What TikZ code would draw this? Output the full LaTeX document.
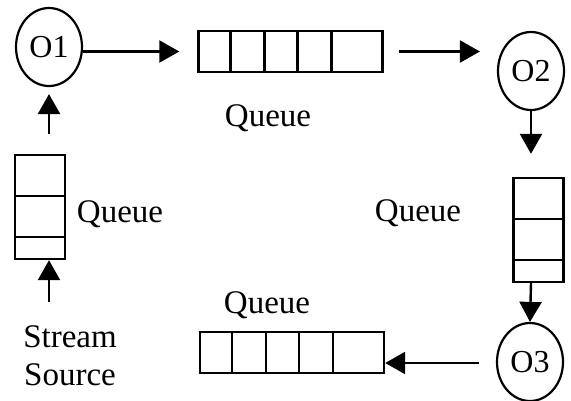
\documentclass[tikz,border=0pt]{standalone}
\usepackage{fontspec}
\setmainfont{Liberation Serif}
\usetikzlibrary{arrows.meta,shapes.geometric,calc}
\tikzset{
  op/.style={draw, ellipse, line width=2.2pt, inner sep=0pt, minimum width=66pt, minimum height=78pt, font=\fontsize{32}{36}\selectfont},
  hq/.style={draw, rectangle, line width=2.4pt, inner sep=0pt, minimum width=184pt, minimum height=41pt},
  vq/.style={draw, rectangle, line width=2.4pt, inner sep=0pt, minimum width=50pt, minimum height=104pt},
  lbl/.style={inner sep=0pt, font=\fontsize{33}{38}\selectfont},
  arr/.style={line width=2.4pt, -{Triangle[length=20pt,width=22pt]}},
  div/.style={line width=2.4pt}
}
\begin{document}
\begin{tikzpicture}[x=1pt,y=-1pt]
\useasboundingbox (0,0) rectangle (571,400);
% operators
\node[op] (o1) at (49,47) {O1};
\node[op] (o2) at (531,71) {O2};
\node[op] (o3) at (530,362) {O3};
% queues
\node[hq] (q1) at (290.5,51.5) {};
\node[hq] (q3) at (292,352.5) {};
\node[vq] (q0) at (40,207) {};
\node[vq] (q2) at (538.5,230) {};
% dividers
\foreach \d in {33,67,100,134}{
  \draw[div] ($(q1.north west)+(\d,0)$) -- ($(q1.south west)+(\d,0)$);
  \draw[div] ($(q3.north west)+(\d,0)$) -- ($(q3.south west)+(\d,0)$);
}
\foreach \d in {42,83}{
  \draw[div] ($(q0.north west)+(0,\d)$) -- ($(q0.north east)+(0,\d)$);
  \draw[div] ($(q2.north west)+(0,\d)$) -- ($(q2.north east)+(0,\d)$);
}
% labels
\node[lbl] (l1) at (268,118) {Queue};
\node[lbl] (l0) at (120,214) {Queue};
\node[lbl] (l2) at (418,213) {Queue};
\node[lbl] (l3) at (267,305) {Queue};
\node[lbl, align=center] (src) at (70,356) {Stream\\Source};
% connectors
\coordinate (s) at (49,302);
\draw[arr] (s) -- (s |- q0.south);
\draw[arr, shorten <=20pt, shorten >=7pt] (s |- q0.north) -- (s |- o1.south);
\draw[arr, shorten >=18pt] (o1.east |- q1.west) -- (q1.west);
\draw[arr, shorten <=15pt, shorten >=17pt] (q1.east) -- (q1.east -| o2.west);
\draw[arr, shorten >=23pt] (o2.south) -- (o2.south |- q2.north);
\draw[arr] (o2.south |- q2.south) -- (o3.north);
\draw[arr, shorten <=17pt] (o3.west |- 0,363) -- (q3.east |- 0,363);
\end{tikzpicture}
\end{document}
